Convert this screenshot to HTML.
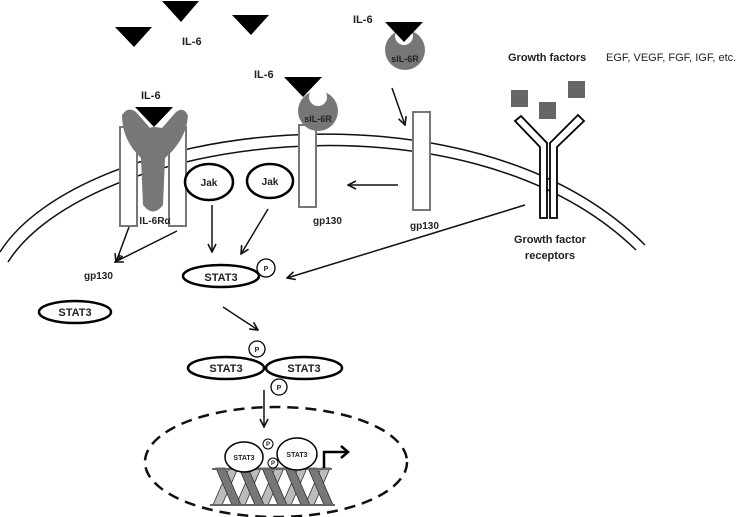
<!DOCTYPE html>
<html><head><meta charset="utf-8"><style>
html,body{margin:0;padding:0;background:#fff;}
svg{display:block}
text{font-family:"Liberation Sans",sans-serif;font-weight:bold;fill:#222}
</style></head><body>
<svg width="741" height="517" viewBox="0 0 741 517" xmlns="http://www.w3.org/2000/svg">
<defs>
<marker id="a" markerWidth="10" markerHeight="10" refX="9" refY="5" orient="auto" markerUnits="userSpaceOnUse">
<path d="M1,1 L9,5 L1,9" fill="none" stroke="#111" stroke-width="1.6"/>
</marker>
<linearGradient id="g1" x1="0" y1="0" x2="1" y2="0">
<stop offset="0" stop-color="#444"/><stop offset="0.5" stop-color="#ddd"/><stop offset="1" stop-color="#444"/>
</linearGradient>
</defs>
<!-- membrane -->
<path d="M0 252 C80 125,470 70,645 245" fill="none" stroke="#111" stroke-width="1.5"/>
<path d="M8 262 C88 137,465 84,636 250" fill="none" stroke="#111" stroke-width="1.5"/>

<!-- free IL-6 -->
<polygon points="115,27 152,27 134,47" fill="#000"/>
<polygon points="162,1 199,1 181,22" fill="#000"/>
<polygon points="232,15 269,15 251,35" fill="#000"/>
<text x="182" y="45" font-size="11">IL-6</text>

<!-- top right sIL-6R -->
<text x="353" y="23" font-size="11">IL-6</text>
<circle cx="405" cy="50" r="20" fill="#777"/>
<circle cx="404" cy="36" r="9" fill="#fff"/>
<polygon points="385,22 423,22 404,42" fill="#000"/>
<text x="405" y="62" font-size="9" text-anchor="middle">sIL-6R</text>
<line x1="392" y1="88" x2="405" y2="125" stroke="#111" stroke-width="1.5" marker-end="url(#a)"/>
<rect x="413" y="112" width="17" height="98" fill="#fff" stroke="#777" stroke-width="2"/>
<text x="410" y="229" font-size="10">gp130</text>
<line x1="398" y1="185" x2="348" y2="185" stroke="#111" stroke-width="1.5" marker-end="url(#a)"/>

<!-- middle -->
<text x="254" y="78" font-size="11">IL-6</text>
<rect x="299" y="125" width="17" height="82" fill="#fff" stroke="#777" stroke-width="2"/>
<circle cx="318" cy="111" r="20" fill="#777"/>
<circle cx="318" cy="97" r="9" fill="#fff"/>
<polygon points="284,77 322,77 303,97" fill="#000"/>
<text x="318" y="122" font-size="9" text-anchor="middle">sIL-6R</text>
<text x="313" y="224" font-size="10">gp130</text>

<!-- left receptor -->
<text x="141" y="99" font-size="11">IL-6</text>
<rect x="120" y="127" width="17" height="99" fill="#fff" stroke="#777" stroke-width="2"/>
<rect x="169" y="127" width="17" height="99" fill="#fff" stroke="#777" stroke-width="2"/>
<path d="M122 115 Q128 106,136 112 L150 128 Q152 126,162 128 L176 112 Q184 106,188 116 Q186 140,165 158 L163 205 Q153 218,143 205 L141 158 Q122 140,122 115 Z" fill="#777"/>
<polygon points="135,107 173,107 154,127" fill="#000"/>
<text x="155" y="224" font-size="10" text-anchor="middle">IL-6Rα</text>
<line x1="129" y1="227" x2="116" y2="262" stroke="#111" stroke-width="1.5" marker-end="url(#a)"/>
<line x1="177" y1="231" x2="115" y2="262" stroke="#111" stroke-width="1.5" marker-end="url(#a)"/>
<text x="84" y="279" font-size="10">gp130</text>

<!-- Jak -->
<ellipse cx="209" cy="182" rx="24" ry="18" fill="#fff" stroke="#000" stroke-width="2.5"/>
<text x="209" y="186" font-size="10" text-anchor="middle">Jak</text>
<ellipse cx="270" cy="181" rx="23" ry="17" fill="#fff" stroke="#000" stroke-width="2.5"/>
<text x="270" y="185" font-size="10" text-anchor="middle">Jak</text>
<line x1="212" y1="205" x2="212" y2="252" stroke="#111" stroke-width="1.5" marker-end="url(#a)"/>
<line x1="268" y1="209" x2="241" y2="254" stroke="#111" stroke-width="1.5" marker-end="url(#a)"/>

<!-- STAT3 phospho -->
<ellipse cx="221" cy="276" rx="38" ry="11" fill="#fff" stroke="#000" stroke-width="2.5"/>
<text x="221" y="281" font-size="11" text-anchor="middle">STAT3</text>
<circle cx="266" cy="268" r="9" fill="#fff" stroke="#000" stroke-width="1.3"/>
<text x="266" y="271" font-size="7" text-anchor="middle">P</text>
<line x1="525" y1="205" x2="287" y2="278" stroke="#111" stroke-width="1.5" marker-end="url(#a)"/>
<ellipse cx="75" cy="312" rx="36" ry="11" fill="#fff" stroke="#000" stroke-width="2.5"/>
<text x="75" y="316" font-size="11" text-anchor="middle">STAT3</text>
<line x1="223" y1="307" x2="258" y2="330" stroke="#111" stroke-width="1.5" marker-end="url(#a)"/>

<!-- dimer -->
<ellipse cx="226" cy="368" rx="38" ry="11" fill="#fff" stroke="#000" stroke-width="2.5"/>
<text x="226" y="372" font-size="11" text-anchor="middle">STAT3</text>
<ellipse cx="304" cy="368" rx="38" ry="11" fill="#fff" stroke="#000" stroke-width="2.5"/>
<text x="304" y="372" font-size="11" text-anchor="middle">STAT3</text>
<circle cx="257" cy="349" r="8" fill="#fff" stroke="#000" stroke-width="1.3"/>
<text x="257" y="352" font-size="7" text-anchor="middle">P</text>
<circle cx="279" cy="387" r="8" fill="#fff" stroke="#000" stroke-width="1.3"/>
<text x="279" y="390" font-size="7" text-anchor="middle">P</text>
<line x1="264" y1="390" x2="264" y2="427" stroke="#111" stroke-width="1.5" marker-end="url(#a)"/>

<!-- nucleus -->
<ellipse cx="276" cy="462" rx="131" ry="55" fill="none" stroke="#111" stroke-width="2.5" stroke-dasharray="11,7"/>
<!-- DNA -->
<g stroke="#333" stroke-width="0.8">
<g fill="#bbb">
<polygon points="213,505 222,505 238,468 229,468"/>
<polygon points="236,505 245,505 261,468 252,468"/>
<polygon points="259,505 268,505 284,468 275,468"/>
<polygon points="282,505 291,505 307,468 298,468"/>
<polygon points="305,505 314,505 330,468 321,468"/>
</g>
<g fill="#777">
<polygon points="216,468 225,468 241,505 232,505"/>
<polygon points="239,468 248,468 264,505 255,505"/>
<polygon points="262,468 271,468 287,505 278,505"/>
<polygon points="285,468 294,468 310,505 301,505"/>
<polygon points="308,468 317,468 333,505 324,505"/>
</g>
</g>
<line x1="212" y1="469" x2="332" y2="469" stroke="#666" stroke-width="2"/>
<line x1="210" y1="505" x2="335" y2="505" stroke="#666" stroke-width="2"/>
<ellipse cx="244" cy="457" rx="19" ry="15" fill="#fff" stroke="#000" stroke-width="1.5"/>
<text x="244" y="460" font-size="7" text-anchor="middle">STAT3</text>
<ellipse cx="297" cy="454" rx="20" ry="16" fill="#fff" stroke="#000" stroke-width="1.5"/>
<text x="297" y="457" font-size="7" text-anchor="middle">STAT3</text>
<circle cx="268" cy="444" r="5" fill="#fff" stroke="#000"/>
<text x="268" y="446" font-size="6" text-anchor="middle">P</text>
<circle cx="273" cy="463" r="5" fill="#fff" stroke="#000"/>
<text x="273" y="465" font-size="6" text-anchor="middle">P</text>
<path d="M324 468 L324 452 L347 452" fill="none" stroke="#000" stroke-width="2.5"/>
<path d="M341 446 L348 452 L341 458" fill="none" stroke="#000" stroke-width="2.5"/>

<!-- growth factors -->
<text x="508" y="61" font-size="11">Growth factors</text>
<text x="606" y="61" font-size="11" style="font-weight:normal">EGF, VEGF, FGF, IGF, etc.</text>
<rect x="511" y="90" width="17" height="17" fill="#666"/>
<rect x="539" y="102" width="17" height="17" fill="#666"/>
<rect x="568" y="81" width="17" height="17" fill="#666"/>
<path d="M515 121 L521 116 L547 143 L547 218 L540 218 L540 147 Z" fill="#fff" stroke="#000" stroke-width="1.8"/>
<path d="M584 121 L578 115 L550 143 L550 218 L557 218 L557 147 Z" fill="#fff" stroke="#000" stroke-width="1.8"/>
<text x="550" y="243" font-size="11" text-anchor="middle">Growth factor</text>
<text x="550" y="259" font-size="11" text-anchor="middle">receptors</text>
</svg>
</body></html>
